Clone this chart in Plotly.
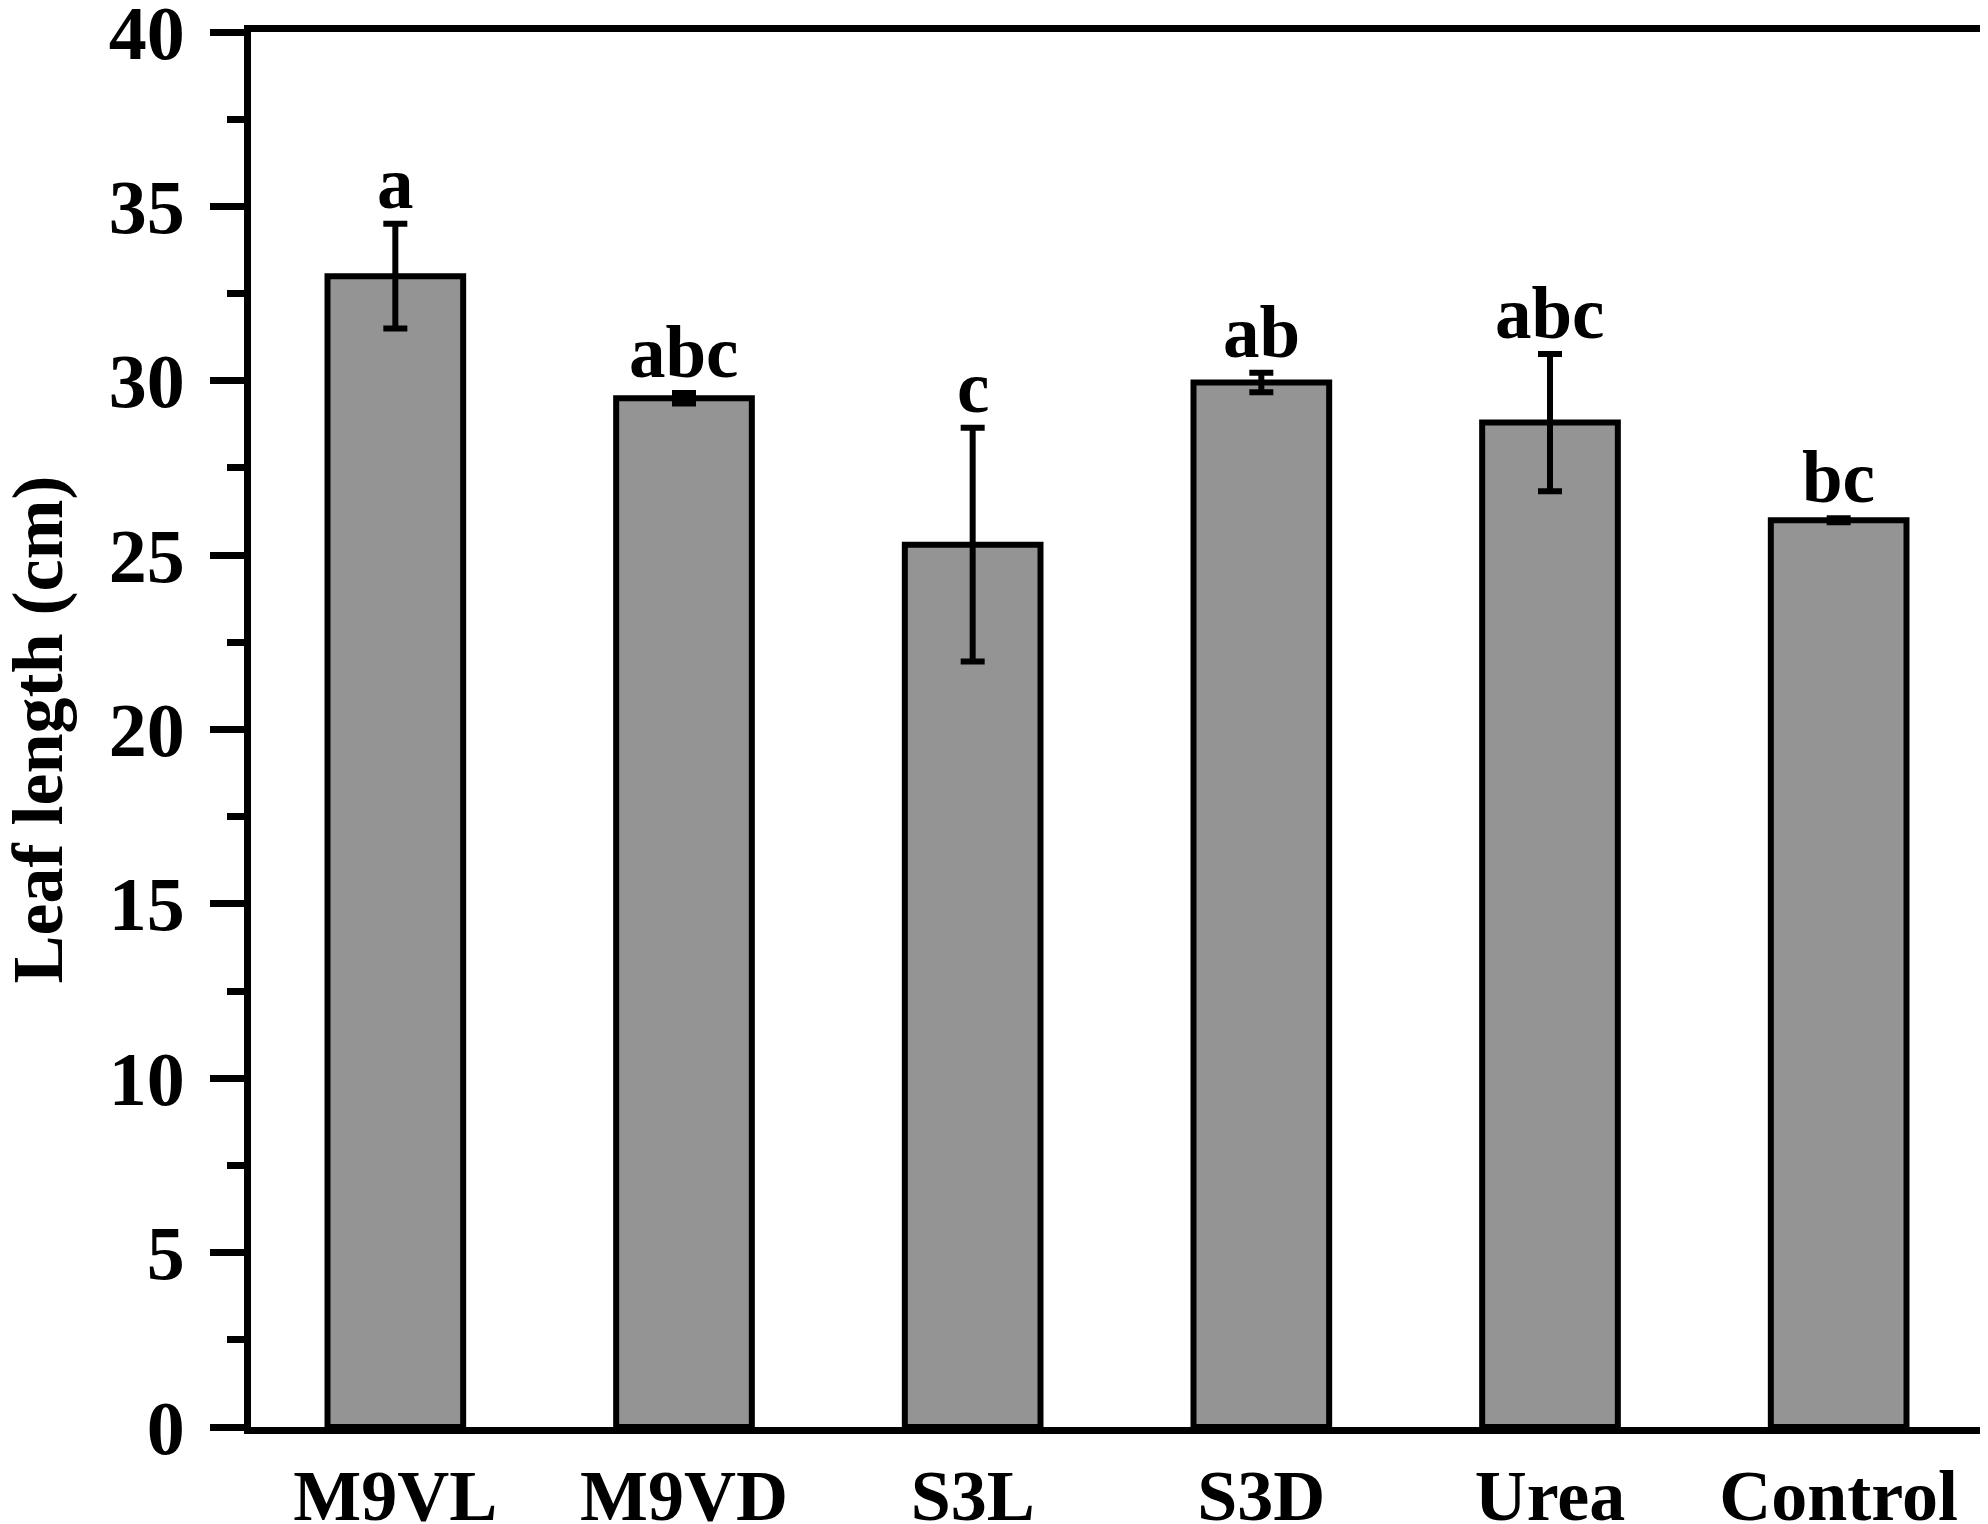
import plotly.graph_objects as go

# treatment groups and leaf length (cm), mean +/- error
treatments = ["M9VL", "M9VD", "S3L", "S3D", "Urea", "Control"]
leaf_length = [33.0, 29.5, 25.3, 29.95, 28.8, 26.0]
leaf_err = [1.5, 0.15, 3.35, 0.28, 1.97, 0.06]
letters = ["a", "abc", "c", "ab", "abc", "bc"]

y_ticks = [0, 5, 10, 15, 20, 25, 30, 35, 40]

FONT = "Liberation Serif"

# the page body adds an 8 px margin, so the figure is 8 px smaller
W, H = 1980, 1516
ML, MR, MT, MB = 243, 5, 24, 97

fig = go.Figure()

fig.add_trace(go.Bar(
    x=treatments,
    y=leaf_length,
    width=0.47,
    marker=dict(color="#949494", line=dict(color="black", width=6)),
    error_y=dict(type="data", array=leaf_err, visible=True,
                 color="black", thickness=6, width=12),
    showlegend=False,
))

# significance letters above error bars
for t, v, e, s in zip(treatments, leaf_length, leaf_err, letters):
    fig.add_annotation(
        x=t, y=v + e, text=f"<b>{s}</b>", showarrow=False,
        yanchor="bottom", yshift=-2,
        font=dict(family=FONT, size=73, color="black"),
    )

# y axis title placed by hand
fig.add_annotation(
    xref="paper", yref="paper", x=-214 / (W - ML - MR), y=0.5,
    text="<b>Leaf length (cm)</b>", textangle=-90, showarrow=False,
    xanchor="center", yanchor="middle",
    font=dict(family=FONT, size=72, color="black"),
)

fig.update_layout(
    width=W, height=H,
    margin=dict(l=ML, r=MR, t=MT, b=MB),
    plot_bgcolor="white", paper_bgcolor="white",
    font=dict(family=FONT, size=72, color="black"),
)

fig.update_xaxes(
    range=[-0.5, 5.5],
    automargin=False,
    showline=True, linecolor="black", linewidth=7, mirror=True,
    ticks="", showgrid=False,
    tickfont=dict(family=FONT, size=72, color="black"),
    ticklabelstandoff=0,
    tickprefix="<b>", ticksuffix="</b>",
)

fig.update_yaxes(
    range=[0, 40],
    automargin=False,
    tickvals=y_ticks,
    ticktext=[f"<b>{v}</b>" for v in y_ticks],
    ticklabeloverflow="allow",
    showline=True, linecolor="black", linewidth=7, mirror=True,
    ticks="outside", ticklen=34, tickwidth=7, tickcolor="black",
    minor=dict(dtick=2.5, ticks="outside", ticklen=17, tickwidth=7,
               tickcolor="black", showgrid=False),
    showgrid=False, zeroline=False,
    tickfont=dict(family=FONT, size=76, color="black"),
    ticklabelstandoff=10,
)

fig.write_html("out.html")
